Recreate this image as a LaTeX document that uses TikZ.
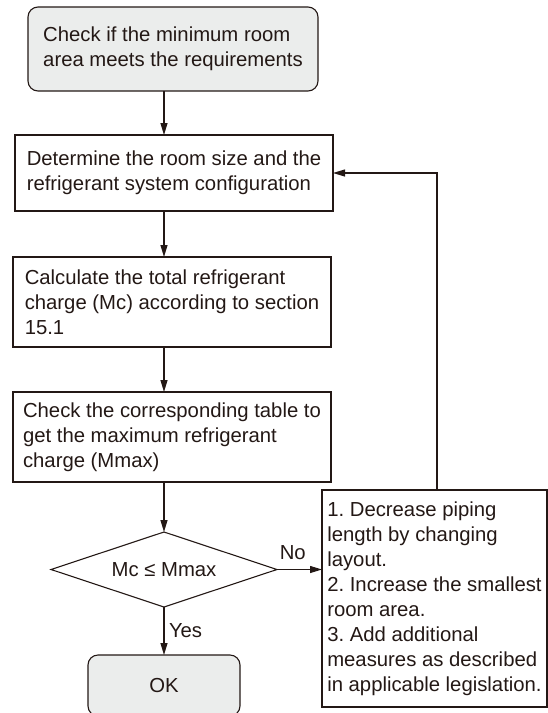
\documentclass[tikz,border=0pt]{standalone}
\usepackage{fontspec}
\setmainfont{Liberation Sans}
\frenchspacing
\usetikzlibrary{shapes.geometric,arrows.meta}
\definecolor{flowline}{HTML}{231815}
\definecolor{flowfill}{HTML}{EBEDEC}
\begin{document}
\begin{tikzpicture}[x=1pt,y=-1pt,inner sep=0pt,outer sep=0pt,line width=1.1pt,color=flowline,
font=\fontsize{20.3}{25}\selectfont,>={Triangle[length=12pt,width=7pt]},
procblock/.style={draw,rectangle,align=left},
termblock/.style={procblock,rounded corners=10pt,fill=flowfill},
decblock/.style={draw,diamond,aspect=3}]
\useasboundingbox (0,0) rectangle (548,713);
\draw (173,49) node[termblock,minimum width=290pt,minimum height=84pt] (start) {Check if the minimum room\\area meets the requirements};
\draw (174,173) node[procblock,minimum width=318pt,minimum height=76pt] (size) {Determine the room size and the\\refrigerant system configuration};
\draw (172,302) node[procblock,minimum width=318pt,minimum height=90pt] (charge) {Calculate the total refrigerant\\charge (Mc) according to section\\15.1};
\draw (172,437) node[procblock,minimum width=318pt,minimum height=90pt] (table) {Check the corresponding table to\\get the maximum refrigerant\\charge (Mmax)};
\draw (164,569.5) node[decblock,minimum width=226pt,minimum height=75pt] (cmp) {Mc ≤ Mmax};
\draw (164,685.5) node[termblock,minimum width=152pt,minimum height=61pt] (ok) {OK};
\draw (434.5,598.5) node[procblock,minimum width=225pt,minimum height=217pt] (fix) {1. Decrease piping\\length by changing\\layout.\\2. Increase the smallest\\room area.\\3. Add additional\\measures as described\\in applicable legislation.};
\coordinate (spine) at (164,0);
\draw[->] (start.south -| spine) -- (size.north -| spine);
\draw[->] (size.south -| spine) -- (charge.north -| spine);
\draw[->] (charge.south -| spine) -- (table.north -| spine);
\draw[->] (table.south -| spine) -- (cmp.north);
\draw[->] (cmp.south) -- node[right=5pt] {Yes} (ok.north);
\draw[->] (cmp.east) -- node[pos=0.35,above=10pt] {No} (fix.west |- cmp.east);
\draw[->] ([xshift=2.5pt]fix.north) |- (size.east);
\end{tikzpicture}
\end{document}
